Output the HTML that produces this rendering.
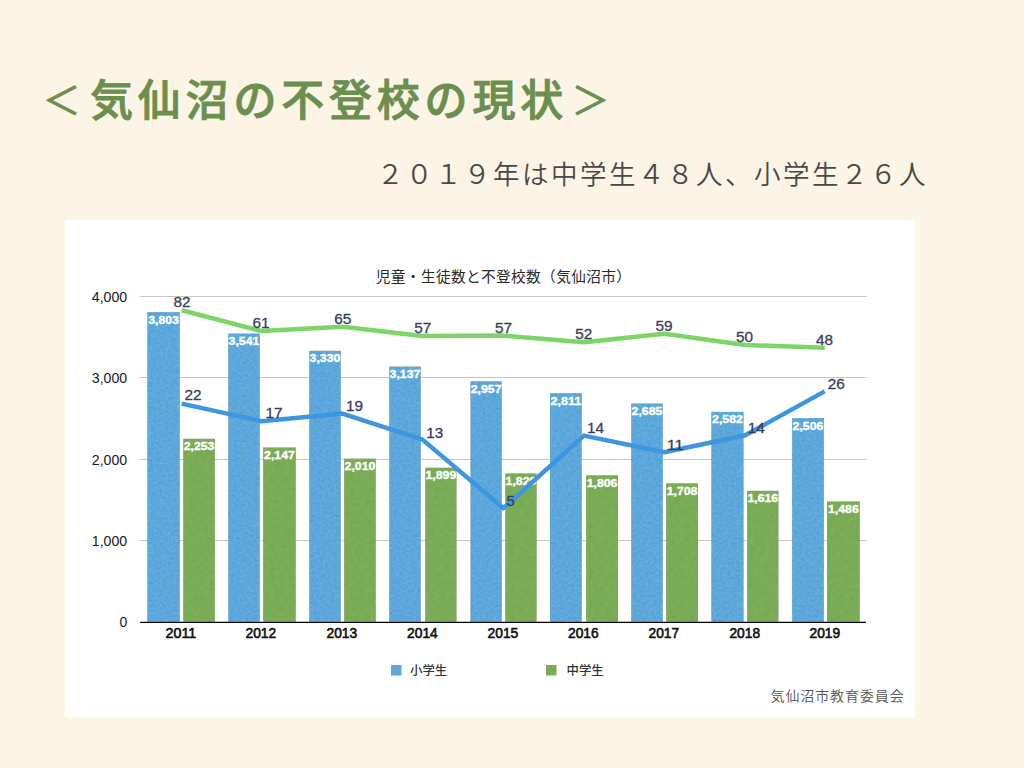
<!DOCTYPE html>
<html lang="ja"><head><meta charset="utf-8">
<style>
html,body{margin:0;padding:0;}
body{width:1024px;height:768px;overflow:hidden;background:#fcf4e4;position:relative;}
.title{position:absolute;left:42.2px;top:70.8px;font-family:"Liberation Sans","Noto Sans CJK JP",sans-serif;font-weight:500;font-size:43px;line-height:60px;letter-spacing:4.8px;color:#6a8f4e;-webkit-text-stroke:0.9px #6a8f4e;white-space:nowrap;}
.sub{position:absolute;right:96px;top:155px;font-family:"Liberation Sans","Noto Sans CJK JP",sans-serif;font-weight:350;font-size:26.5px;line-height:40px;letter-spacing:2.5px;color:#484848;white-space:nowrap;}
.br{font-size:38px;font-weight:400;display:inline-block;width:47.8px;letter-spacing:0;text-align:center;position:relative;}
.b1{left:-4.5px;top:-2.3px;}
.b2{left:-1.5px;top:-2.3px;}
.card{position:absolute;left:65.4px;top:220.2px;width:849.8px;height:496.8px;background:#fff;box-shadow:0 0 2px 0.4px #fff;}
svg{position:absolute;left:0;top:0;}
.grid{stroke:#c5c5c5;stroke-width:1;}
.ylab{font-family:"Liberation Sans",sans-serif;font-size:14px;fill:#1a1a1a;text-anchor:end;}
.xlab{font-family:"Liberation Sans",sans-serif;font-weight:400;font-size:14px;fill:#111;stroke:#111;stroke-width:0.6px;text-anchor:middle;}
.blab{font-family:"Liberation Sans",sans-serif;font-weight:700;font-size:10.6px;fill:#fff;stroke:#fff;stroke-width:0.35px;text-anchor:middle;}
.llab{font-family:"Liberation Sans",sans-serif;font-weight:400;font-size:14.6px;fill:#393d60;stroke:#393d60;stroke-width:0.3px;text-anchor:middle;}
.ctitle{font-family:"Liberation Sans","Noto Sans CJK JP",sans-serif;font-size:14.7px;letter-spacing:0.34px;fill:#2a2a2a;}
.leg{font-family:"Liberation Sans","Noto Sans CJK JP",sans-serif;font-size:12.4px;font-weight:500;fill:#333;}
.src{font-family:"Liberation Sans","Noto Sans CJK JP",sans-serif;font-size:14px;font-weight:350;fill:#555;letter-spacing:0.9px;}
</style></head><body>
<div class="title"><span class="br b1">＜</span>気仙沼の不登校の現状<span class="br b2">＞</span></div>
<div class="sub">２０１９年は中学生４８人、小学生２６人</div>
<div class="card"></div>
<svg width="1024" height="768" viewBox="0 0 1024 768">
<defs>
<filter id="texb" x="0" y="0" width="1" height="1" color-interpolation-filters="sRGB">
<feTurbulence type="fractalNoise" baseFrequency="0.35 0.4" numOctaves="2" seed="5" result="n"/>
<feColorMatrix in="n" type="matrix" values="0.28 0 0 0 0.36  0.28 0 0 0 0.36  0.28 0 0 0 0.36  0 0 0 0 1" result="g"/>
<feBlend in="g" in2="SourceGraphic" mode="soft-light" result="b"/>
<feComposite in="b" in2="SourceAlpha" operator="in"/>
</filter>
<filter id="texg" x="0" y="0" width="1" height="1" color-interpolation-filters="sRGB">
<feTurbulence type="fractalNoise" baseFrequency="0.2 0.25" numOctaves="2" seed="9" result="n"/>
<feColorMatrix in="n" type="matrix" values="0.12 0 0 0 0.44  0.12 0 0 0 0.44  0.12 0 0 0 0.44  0 0 0 0 1" result="g"/>
<feBlend in="g" in2="SourceGraphic" mode="soft-light" result="b"/>
<feComposite in="b" in2="SourceAlpha" operator="in"/>
</filter>
</defs>
<text x="375.8" y="281.6" class="ctitle">児童・生徒数と不登校数（気仙沼市）</text>
<line x1="139.5" x2="866.5" y1="540.50" y2="540.50" class="grid"/>
<text x="127.2" y="545.70" class="ylab" textLength="35.4" lengthAdjust="spacingAndGlyphs">1,000</text>
<line x1="139.5" x2="866.5" y1="459.50" y2="459.50" class="grid"/>
<text x="127.2" y="464.70" class="ylab" textLength="35.4" lengthAdjust="spacingAndGlyphs">2,000</text>
<line x1="139.5" x2="866.5" y1="377.50" y2="377.50" class="grid"/>
<text x="127.2" y="382.70" class="ylab" textLength="35.4" lengthAdjust="spacingAndGlyphs">3,000</text>
<line x1="139.5" x2="866.5" y1="296.50" y2="296.50" class="grid"/>
<text x="127.2" y="301.70" class="ylab" textLength="35.4" lengthAdjust="spacingAndGlyphs">4,000</text>
<text x="127.4" y="627.3" class="ylab">0</text>
<g filter="url(#texb)">
<rect x="147.30" y="312.13" width="32.50" height="309.67" fill="#5ca8dc"/>
<rect x="228.20" y="333.54" width="31.60" height="288.26" fill="#5ca8dc"/>
<rect x="309.20" y="350.77" width="31.60" height="271.03" fill="#5ca8dc"/>
<rect x="389.20" y="366.54" width="31.60" height="255.26" fill="#5ca8dc"/>
<rect x="470.40" y="381.24" width="31.40" height="240.56" fill="#5ca8dc"/>
<rect x="550.00" y="393.17" width="31.80" height="228.63" fill="#5ca8dc"/>
<rect x="631.20" y="403.46" width="31.60" height="218.34" fill="#5ca8dc"/>
<rect x="711.30" y="411.88" width="32.30" height="209.92" fill="#5ca8dc"/>
<rect x="792.10" y="418.08" width="31.80" height="203.72" fill="#5ca8dc"/>
</g>
<g filter="url(#texg)">
<rect x="183.20" y="438.75" width="31.70" height="183.05" fill="#7aac56"/>
<rect x="263.10" y="447.41" width="32.70" height="174.39" fill="#7aac56"/>
<rect x="344.10" y="458.60" width="31.70" height="163.20" fill="#7aac56"/>
<rect x="425.20" y="467.67" width="31.40" height="154.13" fill="#7aac56"/>
<rect x="505.20" y="473.39" width="31.50" height="148.41" fill="#7aac56"/>
<rect x="586.10" y="475.27" width="31.90" height="146.53" fill="#7aac56"/>
<rect x="666.10" y="483.27" width="31.90" height="138.53" fill="#7aac56"/>
<rect x="747.10" y="490.79" width="31.40" height="131.01" fill="#7aac56"/>
<rect x="827.00" y="501.41" width="32.80" height="120.39" fill="#7aac56"/>
</g>
<text x="163.55" y="323.63" class="blab" textLength="30.8" lengthAdjust="spacingAndGlyphs">3,803</text>
<text x="199.05" y="450.25" class="blab" textLength="30.8" lengthAdjust="spacingAndGlyphs">2,253</text>
<text x="180.90" y="637.6" class="xlab" textLength="30.6" lengthAdjust="spacingAndGlyphs">2011</text>
<text x="244.00" y="345.04" class="blab" textLength="30.8" lengthAdjust="spacingAndGlyphs">3,541</text>
<text x="279.45" y="458.91" class="blab" textLength="30.8" lengthAdjust="spacingAndGlyphs">2,147</text>
<text x="260.85" y="637.6" class="xlab" textLength="30.6" lengthAdjust="spacingAndGlyphs">2012</text>
<text x="325.00" y="362.27" class="blab" textLength="30.8" lengthAdjust="spacingAndGlyphs">3,330</text>
<text x="359.95" y="470.10" class="blab" textLength="30.8" lengthAdjust="spacingAndGlyphs">2,010</text>
<text x="341.85" y="637.6" class="xlab" textLength="30.6" lengthAdjust="spacingAndGlyphs">2013</text>
<text x="405.00" y="378.04" class="blab" textLength="30.8" lengthAdjust="spacingAndGlyphs">3,137</text>
<text x="440.90" y="479.17" class="blab" textLength="30.8" lengthAdjust="spacingAndGlyphs">1,899</text>
<text x="422.40" y="637.6" class="xlab" textLength="30.6" lengthAdjust="spacingAndGlyphs">2014</text>
<text x="486.10" y="392.74" class="blab" textLength="30.8" lengthAdjust="spacingAndGlyphs">2,957</text>
<text x="520.95" y="484.89" class="blab" textLength="30.8" lengthAdjust="spacingAndGlyphs">1,829</text>
<text x="502.90" y="637.6" class="xlab" textLength="30.6" lengthAdjust="spacingAndGlyphs">2015</text>
<text x="565.90" y="404.67" class="blab" textLength="30.8" lengthAdjust="spacingAndGlyphs">2,811</text>
<text x="602.05" y="486.77" class="blab" textLength="30.8" lengthAdjust="spacingAndGlyphs">1,806</text>
<text x="583.35" y="637.6" class="xlab" textLength="30.6" lengthAdjust="spacingAndGlyphs">2016</text>
<text x="647.00" y="414.96" class="blab" textLength="30.8" lengthAdjust="spacingAndGlyphs">2,685</text>
<text x="682.05" y="494.77" class="blab" textLength="30.8" lengthAdjust="spacingAndGlyphs">1,708</text>
<text x="663.85" y="637.6" class="xlab" textLength="30.6" lengthAdjust="spacingAndGlyphs">2017</text>
<text x="727.45" y="423.38" class="blab" textLength="30.8" lengthAdjust="spacingAndGlyphs">2,582</text>
<text x="762.80" y="502.29" class="blab" textLength="30.8" lengthAdjust="spacingAndGlyphs">1,616</text>
<text x="744.75" y="637.6" class="xlab" textLength="30.6" lengthAdjust="spacingAndGlyphs">2018</text>
<text x="808.00" y="429.58" class="blab" textLength="30.8" lengthAdjust="spacingAndGlyphs">2,506</text>
<text x="843.40" y="512.91" class="blab" textLength="30.8" lengthAdjust="spacingAndGlyphs">1,486</text>
<text x="824.85" y="637.6" class="xlab" textLength="30.6" lengthAdjust="spacingAndGlyphs">2019</text>
<line x1="140.2" x2="866" y1="622.4" y2="622.4" stroke="#000" stroke-width="1.3"/>
<polyline points="181.70,310.30 261.45,331.00 342.45,326.80 422.50,336.00 503.50,335.60 583.95,342.30 664.45,333.80 745.35,345.00 824.70,347.70" fill="none" stroke="#7dd567" stroke-width="4.5" stroke-linejoin="round"/>
<polyline points="181.70,403.60 261.45,421.20 342.45,413.60 422.50,439.60 503.50,508.20 583.95,435.60 664.45,452.20 745.35,435.20 824.70,391.40" fill="none" stroke="#3f96e0" stroke-width="4.5" stroke-linejoin="round"/>
<text x="181.90" y="307.00" class="llab" textLength="17.05" lengthAdjust="spacingAndGlyphs">82</text>
<text x="193.10" y="399.70" class="llab" textLength="17.05" lengthAdjust="spacingAndGlyphs">22</text>
<text x="261.00" y="327.90" class="llab" textLength="17.05" lengthAdjust="spacingAndGlyphs">61</text>
<text x="274.10" y="418.40" class="llab" textLength="17.05" lengthAdjust="spacingAndGlyphs">17</text>
<text x="342.70" y="323.50" class="llab" textLength="17.05" lengthAdjust="spacingAndGlyphs">65</text>
<text x="354.60" y="410.80" class="llab" textLength="17.05" lengthAdjust="spacingAndGlyphs">19</text>
<text x="422.80" y="332.80" class="llab" textLength="17.05" lengthAdjust="spacingAndGlyphs">57</text>
<text x="434.70" y="437.90" class="llab" textLength="17.05" lengthAdjust="spacingAndGlyphs">13</text>
<text x="503.40" y="332.90" class="llab" textLength="17.05" lengthAdjust="spacingAndGlyphs">57</text>
<text x="510.50" y="505.90" class="llab" textLength="8.52" lengthAdjust="spacingAndGlyphs">5</text>
<text x="583.70" y="339.00" class="llab" textLength="17.05" lengthAdjust="spacingAndGlyphs">52</text>
<text x="595.60" y="432.70" class="llab" textLength="17.05" lengthAdjust="spacingAndGlyphs">14</text>
<text x="664.00" y="330.90" class="llab" textLength="17.05" lengthAdjust="spacingAndGlyphs">59</text>
<text x="675.20" y="449.80" class="llab" textLength="17.05" lengthAdjust="spacingAndGlyphs">11</text>
<text x="744.50" y="341.70" class="llab" textLength="17.05" lengthAdjust="spacingAndGlyphs">50</text>
<text x="756.30" y="432.80" class="llab" textLength="17.05" lengthAdjust="spacingAndGlyphs">14</text>
<text x="824.50" y="344.80" class="llab" textLength="17.05" lengthAdjust="spacingAndGlyphs">48</text>
<text x="836.20" y="389.10" class="llab" textLength="17.05" lengthAdjust="spacingAndGlyphs">26</text>
<rect x="391" y="665" width="10.5" height="10.5" fill="#5ca8dc"/>
<text x="410" y="674.8" class="leg">小学生</text>
<rect x="546" y="665" width="10.5" height="10.5" fill="#7aac56"/>
<text x="566.6" y="674.8" class="leg">中学生</text>
<text x="770.5" y="701" class="src">気仙沼市教育委員会</text>
</svg>
</body></html>
